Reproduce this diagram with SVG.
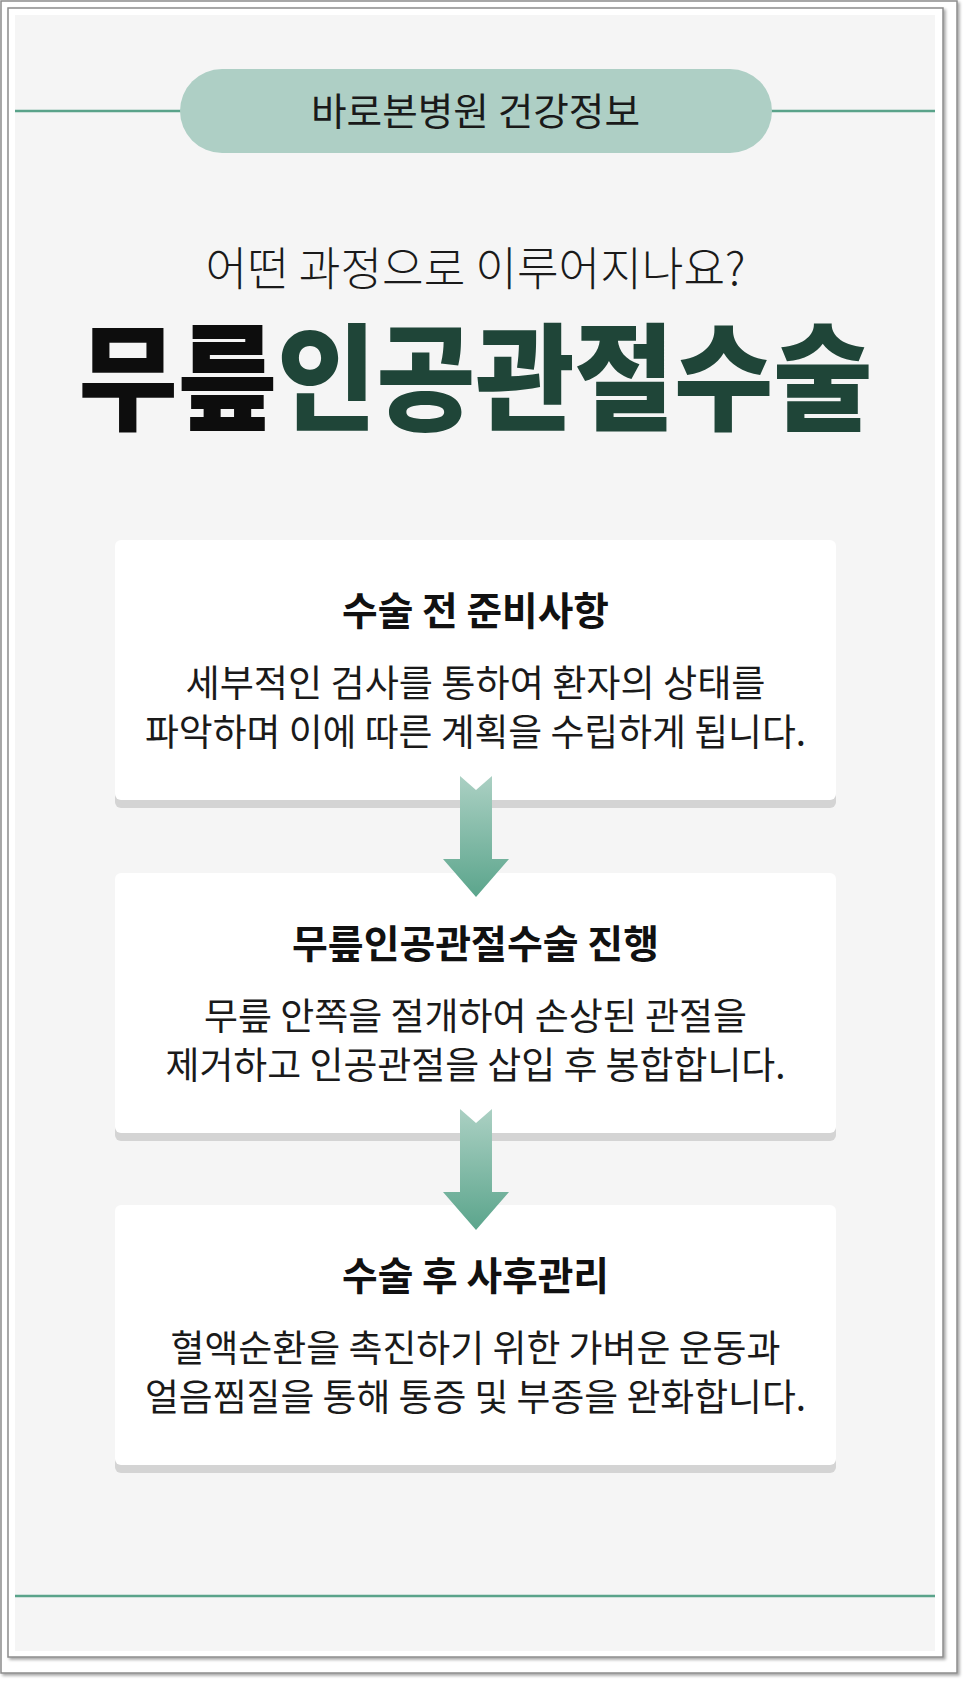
<svg xmlns="http://www.w3.org/2000/svg" width="966" height="1682" viewBox="0 0 966 1682">
<style>
.kr{font-family:"Noto Sans CJK KR","Noto Sans",sans-serif}
.ctitle{font-size:39px;font-weight:700;fill:#111;text-anchor:middle}
.cbody{font-size:37px;font-weight:400;fill:#1a1a1a;text-anchor:middle}
.card{fill:#ffffff}
.cardsh{fill:#d4d4d4}
.arrow{fill:url(#ag)}
</style>
<defs>
<linearGradient id="ag" x1="0" y1="0" x2="0" y2="1">
<stop offset="0" stop-color="#abd0c3"/>
<stop offset="1" stop-color="#5ba58c"/>
</linearGradient>
<filter id="fs" x="-5%" y="-5%" width="110%" height="110%">
<feDropShadow dx="2" dy="2" stdDeviation="1.5" flood-color="#000" flood-opacity="0.35"/>
</filter>
</defs>
<rect x="1" y="1" width="956" height="1672" fill="#fff" stroke="#8c8c8c" stroke-width="1.5" filter="url(#fs)"/>
<rect x="8" y="8" width="935" height="1649" fill="#fff" stroke="#8c8c8c" stroke-width="1.5" filter="url(#fs)"/>
<rect x="15" y="15" width="920" height="1636" fill="#f5f5f5"/>
<g id="header">
<line x1="15" y1="111" x2="935" y2="111" stroke="#5aa38a" stroke-width="2.5"/>
<rect x="180" y="69" width="592" height="84" rx="42" fill="#aecfc5"/>
<text class="kr" x="475.5" y="125" font-size="38" fill="#1a1a1a" text-anchor="middle" textLength="329" lengthAdjust="spacingAndGlyphs">바로본병원 건강정보</text>
</g>
<g id="title">
<text class="kr" x="475.5" y="285" font-size="46" font-weight="300" fill="#1a1a1a" text-anchor="middle" textLength="540" lengthAdjust="spacingAndGlyphs">어떤 과정으로 이루어지나요?</text>
<text class="kr" x="475.5" y="421" font-size="116" font-weight="900" text-anchor="middle" textLength="794" lengthAdjust="spacingAndGlyphs"><tspan fill="#0d0d0d">무릎</tspan><tspan fill="#1f4538">인공관절수술</tspan></text>
</g>
<g id="card1">
<rect class="cardsh" x="115" y="548" width="721" height="260" rx="6"/>
<rect class="card" x="115" y="540" width="721" height="260" rx="6"/>
<text class="kr ctitle" x="475.5" y="625" textLength="267" lengthAdjust="spacingAndGlyphs">수술 전 준비사항</text>
<text class="kr cbody" x="475.5" y="697" textLength="580" lengthAdjust="spacingAndGlyphs">세부적인 검사를 통하여 환자의 상태를</text>
<text class="kr cbody" x="475.5" y="746" textLength="661" lengthAdjust="spacingAndGlyphs">파악하며 이에 따른 계획을 수립하게 됩니다.</text>
</g>
<g id="card2">
<rect class="cardsh" x="115" y="881" width="721" height="260" rx="6"/>
<rect class="card" x="115" y="873" width="721" height="260" rx="6"/>
<text class="kr ctitle" x="475.5" y="958" textLength="367" lengthAdjust="spacingAndGlyphs">무릎인공관절수술 진행</text>
<text class="kr cbody" x="475.5" y="1030" textLength="543" lengthAdjust="spacingAndGlyphs">무릎 안쪽을 절개하여 손상된 관절을</text>
<text class="kr cbody" x="475.5" y="1079" textLength="620" lengthAdjust="spacingAndGlyphs">제거하고 인공관절을 삽입 후 봉합합니다.</text>
</g>
<g id="card3">
<rect class="cardsh" x="115" y="1213" width="721" height="260" rx="6"/>
<rect class="card" x="115" y="1205" width="721" height="260" rx="6"/>
<text class="kr ctitle" x="475.5" y="1290" textLength="267" lengthAdjust="spacingAndGlyphs">수술 후 사후관리</text>
<text class="kr cbody" x="475.5" y="1362" textLength="610" lengthAdjust="spacingAndGlyphs">혈액순환을 촉진하기 위한 가벼운 운동과</text>
<text class="kr cbody" x="475.5" y="1411" textLength="661" lengthAdjust="spacingAndGlyphs">얼음찜질을 통해 통증 및 부종을 완화합니다.</text>
</g>
<g id="connectors">
<path class="arrow" d="M460 776 L476 790 L492 776 L492 859 L509 859 L476 897 L443 859 L460 859 Z"/>
<path class="arrow" d="M460 1109 L476 1123 L492 1109 L492 1192 L509 1192 L476 1230 L443 1192 L460 1192 Z"/>
</g>
<line id="footer-line" x1="15" y1="1596" x2="935" y2="1596" stroke="#5aa38a" stroke-width="2.5"/>
</svg>
